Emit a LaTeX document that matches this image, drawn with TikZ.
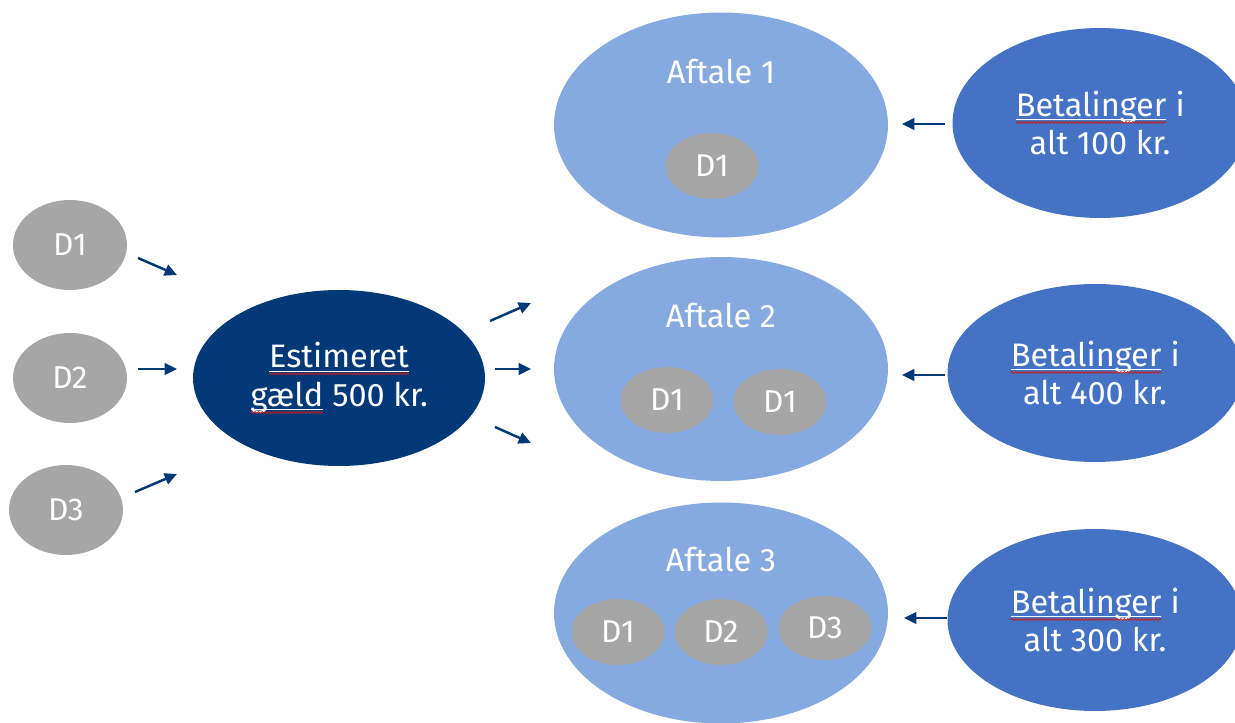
\documentclass[tikz,border=0pt]{standalone}
\usepackage{fontspec}
\setmainfont{Fira Sans}
\usetikzlibrary{shapes.geometric,decorations.pathmorphing,arrows.meta}
\definecolor{navy}{RGB}{0,56,120}
\definecolor{lightblue}{RGB}{134,170,224}
\definecolor{midblue}{RGB}{68,114,196}
\definecolor{dgrey}{RGB}{166,166,166}
\definecolor{squig}{RGB}{200,30,30}
\newcommand\sq[1]{\tikz[baseline=(w.base),x=1cm,y=1cm]{\node[shape=rectangle,inner sep=0pt,outer sep=0pt,minimum width=0pt,minimum height=0pt,fill=none,draw=none,text=white,anchor=base] (w) {#1};
\draw[white,line width=0.5pt] ([yshift=-2pt]w.base west) -- ([yshift=-2pt]w.base east);
\draw[squig,line width=0.5pt,decorate,decoration={snake,amplitude=0.5pt,segment length=2pt}] ([yshift=-3.6pt]w.base west) -- ([yshift=-3.6pt]w.base east);}}
\begin{document}
\begin{tikzpicture}[x=0.02cm,y=-0.02cm,
  txt/.style={text=white,font=\fontsize{18.5}{22}\selectfont,align=center},
  dbig/.style={ellipse,fill=dgrey,inner sep=0pt,minimum width=2.28cm,minimum height=1.8cm,text=white,font=\fontsize{18}{21}\selectfont},
  dsmall/.style={ellipse,fill=dgrey,inner sep=0pt,minimum width=1.86cm,minimum height=1.32cm,text=white,font=\fontsize{18}{21}\selectfont},
  aftale/.style={ellipse,fill=lightblue,inner sep=0pt,minimum width=6.68cm,minimum height=4.5cm},
  betal/.style={ellipse,fill=midblue,inner sep=0pt,minimum width=5.9cm,minimum height=3.8cm,txt},
  arr/.style={navy,line width=1.4pt,-{Triangle[length=7pt,width=6.5pt]}}]
\clip (0,0) rectangle (1235,723);
\fill[white] (0,0) rectangle (1235,723);
% left D nodes
\node[dbig] (l1) at (70,245) {D1};
\node[dbig] (l2) at (70,378) {D2};
\node[dbig] (l3) at (66,510) {D3};
% estimated
\node[ellipse,fill=navy,inner sep=0pt,minimum width=5.84cm,minimum height=3.52cm,txt] (est) at (339,378) {\sq{Estimeret}\\\sq{gæld} 500 kr.};
% aftale ellipses
\node[aftale] (af1) at (721,125) {};
\node[aftale,minimum height=4.48cm] (af2) at (721,369) {};
\node[aftale,minimum height=4.42cm] (af3) at (721,613) {};
\node[txt] (af1t) at (721,72) {Aftale 1};
\node[txt] (af2t) at (721,316) {Aftale 2};
\node[txt] (af3t) at (721,560) {Aftale 3};
\node[dsmall] (a1d1) at (712,166) {D1};
\node[dsmall] (a2d1) at (667,400) {D1};
\node[dsmall] (a2d2) at (780,402) {D1};
\node[dsmall] (a3d1) at (618,632) {D1};
\node[dsmall] (a3d2) at (721,632) {D2};
\node[dsmall,minimum height=1.28cm] (a3d3) at (825,628) {D3};
% betalinger
\node[betal] (b1) at (1100,123) {\sq{Betalinger} i\\alt 100 kr.};
\node[betal,minimum height=3.56cm] (b2) at (1095,373) {\sq{Betalinger} i\\alt 400 kr.};
\node[betal,minimum height=3.64cm] (b3) at (1095,620) {\sq{Betalinger} i\\alt 300 kr.};
% arrow coordinates
\coordinate (p1s) at (138,258); \coordinate (p1e) at (177,275);
\coordinate (p2s) at (138,369); \coordinate (p2e) at (177,369);
\coordinate (p3s) at (135,492); \coordinate (p3e) at (177,474);
\coordinate (q1s) at (490,321); \coordinate (q1e) at (531,303);
\coordinate (q2s) at (495,369); \coordinate (q2e) at (531,369);
\coordinate (q3s) at (495,427); \coordinate (q3e) at (531,443);
\coordinate (r1s) at (945,124); \coordinate (r1e) at (902,124);
\coordinate (r2s) at (945,375); \coordinate (r2e) at (902,375);
\coordinate (r3s) at (947,618); \coordinate (r3e) at (904,618);
\draw[arr] (p1s) -- (p1e);
\draw[arr] (p2s) -- (p2e);
\draw[arr] (p3s) -- (p3e);
\draw[arr] (q1s) -- (q1e);
\draw[arr] (q2s) -- (q2e);
\draw[arr] (q3s) -- (q3e);
\draw[arr] (r1s) -- (r1e);
\draw[arr] (r2s) -- (r2e);
\draw[arr] (r3s) -- (r3e);
\end{tikzpicture}
\end{document}
